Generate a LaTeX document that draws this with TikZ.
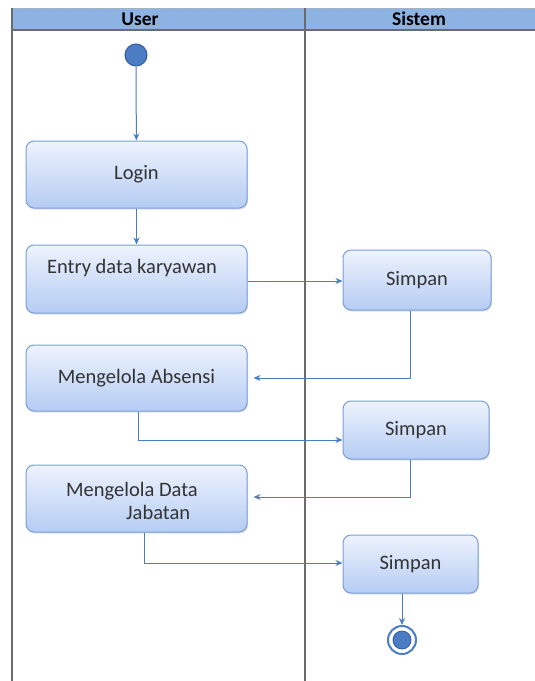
\documentclass[tikz,border=0pt]{standalone}
\usepackage{fontspec}
\setmainfont{Carlito}
\usetikzlibrary{shadows,arrows.meta}
\definecolor{hdr}{HTML}{8DB3E2}
\definecolor{boxtop}{HTML}{EEF3FD}
\definecolor{boxbot}{HTML}{B5CCF3}
\definecolor{boxline}{HTML}{7A9FD6}
\definecolor{arr}{HTML}{4A7EC2}
\definecolor{dot}{HTML}{4B7CC4}
\definecolor{dotline}{HTML}{2F5C9C}
\definecolor{lane}{HTML}{6B6B6B}
\tikzset{
  actbox/.style={draw=boxline, line width=1pt, rounded corners=8pt,
    top color=boxtop, bottom color=boxbot,
    drop shadow={shadow xshift=1pt, shadow yshift=-1.5pt, opacity=0.25},
    inner sep=0pt, font=\fontsize{20.5}{24}\selectfont, text=black!80},
  lbl/.style={inner sep=0pt, font=\fontsize{20.5}{23}\selectfont, text=black!80},
  flow/.style={draw=arr, line width=1pt, -{Stealth[length=7pt,width=6pt]}},
  lanes/.style={draw=lane, line width=1.2pt},
}
\begin{document}
\begin{tikzpicture}[x=1pt,y=-1pt]
\useasboundingbox (0,0) rectangle (535,681);
% header
\fill[hdr] (12,8) rectangle (535,30);
\draw[gray!60, densely dotted, line width=0.8pt] (12,8) -- (535,8);
\draw[lanes] (12,30) -- (535,30);
\draw[lanes] (12,8) -- (12,681);
\draw[lanes] (305,8) -- (305,681);
\node (huser) at (140,19) {\fontsize{19.5}{22}\selectfont\bfseries User};
\node (hsis) at (419,19) {\fontsize{19.5}{22}\selectfont\bfseries Sistem};
% start
\node (start) [circle, fill=dot, draw=dotline, line width=1pt, minimum size=22pt, inner sep=0pt] at (136,55) {};
% boxes
\node (login) [actbox, minimum width=221pt, minimum height=67pt] at (136.5,174.5) {Login};
\node (entry) [actbox, minimum width=221pt, minimum height=68pt] at (136.5,279) {};
\node (entrytext) [lbl] at (132,268) {Entry data karyawan};
\node (simpan1) [actbox, minimum width=148pt, minimum height=60pt] at (417,280) {Simpan};
\node (absensi) [actbox, minimum width=221pt, minimum height=66pt] at (136.5,378) {Mengelola Absensi};
\node (simpan2) [actbox, minimum width=146pt, minimum height=58pt] at (416,430) {Simpan};
\node (jabatan) [actbox, minimum width=221pt, minimum height=67pt] at (136.5,498.5) {};
\node (jabtext) [lbl, align=left, anchor=north west] at (66,482) {Mengelola Data\\\hspace*{60pt}Jabatan};
\node (simpan3) [actbox, minimum width=135pt, minimum height=58pt] at (410.5,564) {Simpan};
% end
\node (endo) [circle, draw=dot, line width=2pt, fill=white, minimum size=28pt, inner sep=0pt] at (402,640) {};
\node (endi) [circle, fill=dot, draw=dotline, line width=0.8pt, minimum size=18pt, inner sep=0pt] at (402,640) {};
% flows
\draw[flow] (start) -- (login);
\draw[flow] (login) -- (entry);
\draw[flow] (entry.east |- 0,281) -- (simpan1.west |- 0,281);
\draw[flow] (simpan1.south -| 410,0) |- ([xshift=6pt]absensi.east);
\draw[flow] (absensi.south -| 138,0) |- (simpan2.west |- 0,440);
\draw[flow] (simpan2.south -| 410,0) |- ([xshift=6pt]jabatan.east |- 0,497);
\draw[flow] (jabatan.south -| 144,0) |- (simpan3.west |- 0,563);
\draw[flow] (simpan3.south -| 402,0) -- (endo);
\end{tikzpicture}
\end{document}
